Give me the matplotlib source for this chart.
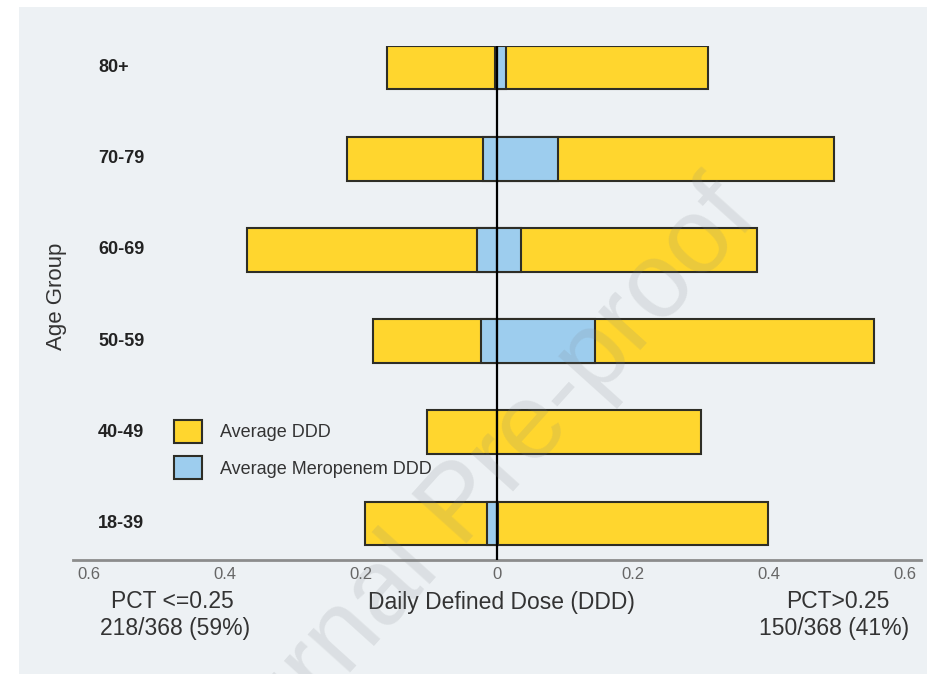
import matplotlib
matplotlib.use("Agg")
import matplotlib.pyplot as plt
from matplotlib.patches import Patch, Rectangle
from matplotlib import transforms

plt.rcParams['font.family'] = ['Liberation Sans', 'DejaVu Sans']

# age groups, bottom to top
ageGroups = ['18-39', '40-49', '50-59', '60-69', '70-79', '80+']
# PCT <= 0.25 side (drawn to the left)
dddLow = [0.194, 0.103, 0.183, 0.368, 0.220, 0.162]
meroLow = [0.014, 0.0, 0.024, 0.030, 0.021, 0.003]
# PCT > 0.25 side (drawn to the right)
dddHigh = [0.398, 0.300, 0.555, 0.383, 0.496, 0.311]
meroHigh = [0.002, 0.0, 0.144, 0.036, 0.090, 0.013]

xTicks = [-0.6, -0.4, -0.2, 0, 0.2, 0.4, 0.6]
xTickLabels = ['0.6', '0.4', '0.2', '0', '0.2', '0.4', '0.6']

YELLOW = '#FFD62E'
BLUE = '#9DCDEE'
EDGE = '#2e2e26'
PANEL = '#EDF1F4'

W, H = 928, 674
fig = plt.figure(figsize=(W / 100, H / 100), dpi=100)
fig.patch.set_facecolor('white')
fig.patches.append(Rectangle((19 / W, 0), 1 - 19 / W, 1 - 7 / H,
                             transform=fig.transFigure, facecolor=PANEL,
                             edgecolor='none', zorder=-10))

ax = fig.add_axes([73 / W, 1 - 560 / H, (921 - 73) / W, (560 - 45.5) / H])
ax.set_facecolor('none')

y = list(range(len(ageGroups)))
h = 0.48
negLow = [-v for v in dddLow]
negMero = [-v for v in meroLow]
ax.barh(y, negLow, height=h, color=YELLOW, edgecolor=EDGE, linewidth=1.5, zorder=2)
ax.barh(y, dddHigh, height=h, color=YELLOW, edgecolor=EDGE, linewidth=1.5, zorder=2)
for i in y:
    if meroLow[i] > 0:
        ax.barh(i, negMero[i], height=h, color=BLUE, edgecolor=EDGE, linewidth=1.5, zorder=3)
    if meroHigh[i] > 0:
        ax.barh(i, meroHigh[i], height=h, color=BLUE, edgecolor=EDGE, linewidth=1.5, zorder=3)
ax.axvline(0, color='black', linewidth=1.6, zorder=4)

ax.set_xlim(-0.6235, 0.6235)
ax.set_ylim(-0.40, len(ageGroups) - 1 + h / 2)
ax.set_xticks(xTicks)
ax.set_xticklabels(xTickLabels)
ax.set_yticks([])
ax.tick_params(axis='x', length=0, pad=5, labelsize=12, labelcolor='#666666')
for s in ['top', 'right', 'left']:
    ax.spines[s].set_visible(False)
ax.spines['bottom'].set_color('#8c8c8c')
ax.spines['bottom'].set_linewidth(2)

# age group labels, left aligned
trans = transforms.blended_transform_factory(fig.transFigure, ax.transData)
for i, g in enumerate(ageGroups):
    ax.text(98 / W, i, g, transform=trans, ha='left', va='center',
            fontsize=13, fontweight='bold', color='#222222')

fig.text(57 / W, 1 - 296 / H, 'Age Group', rotation=90, ha='center', va='center',
         fontsize=16, color='#333333')

handles = [Patch(facecolor=YELLOW, edgecolor=EDGE, linewidth=1.5, label='Average DDD'),
           Patch(facecolor=BLUE, edgecolor=EDGE, linewidth=1.5, label='Average Meropenem DDD')]
ax.legend(handles=handles, loc='upper left', bbox_to_anchor=(174 / W, 1 - 420 / H),
          bbox_transform=fig.transFigure, frameon=False, fontsize=13,
          handlelength=1.57, handleheight=1.57, handletextpad=1.0,
          labelspacing=0.75, borderpad=0, borderaxespad=0, labelcolor='#333333')

txt = dict(ha='center', va='center', fontsize=16.5, color='#333333')
fig.text(172 / W, 1 - 602 / H, 'PCT <=0.25', **txt)
fig.text(175 / W, 1 - 628 / H, '218/368 (59%)', **txt)
fig.text(501 / W, 1 - 602 / H, 'Daily Defined Dose (DDD)', **txt)
fig.text(838 / W, 1 - 602 / H, 'PCT>0.25', **txt)
fig.text(834 / W, 1 - 628 / H, '150/368 (41%)', **txt)

# watermark
fig.text(462 / W, 1 - 506 / H, 'Journal Pre-proof', rotation=48, rotation_mode='anchor',
         ha='center', va='center', fontsize=77, color='#7f8488', alpha=0.16, zorder=10)

plt.savefig('out.png', dpi=100)
